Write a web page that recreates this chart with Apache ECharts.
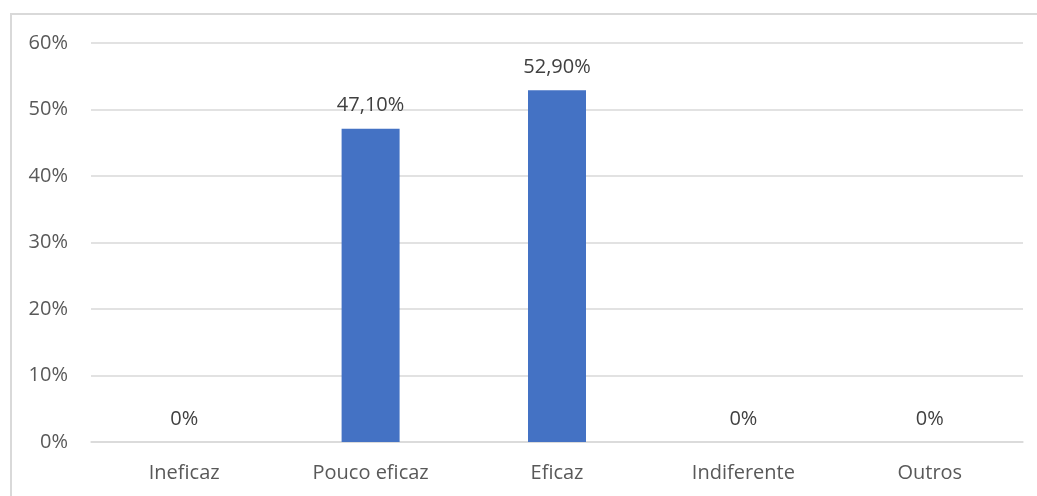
<!DOCTYPE html>
<html>
<head>
<meta charset="utf-8">
<script src="https://cdn.jsdelivr.net/npm/echarts@6/dist/echarts.min.js"></script>
<style>
  html, body { margin: 0; padding: 0; background: #fff; }
  #frame { position: absolute; left: 10px; top: 13px; width: 1027px; height: 483px;
           border-left: 2px solid #d9d9d9; border-top: 2px solid #d9d9d9; box-sizing: border-box; }
  #main { position: absolute; left: 0; top: 0; width: 1037px; height: 496px; }
</style>
</head>
<body>
<div id="frame"></div>
<div id="main"></div>
<script>
  // categorias e valores (%)
  var categorias = ['Ineficaz', 'Pouco eficaz', 'Eficaz', 'Indiferente', 'Outros'];
  var valores = [0, 47.1, 52.9, 0, 0];
  var rotulos = ['0%', '47,10%', '52,90%', '0%', '0%'];
  var ticksY = [0, 10, 20, 30, 40, 50, 60];

  var chart = echarts.init(document.getElementById('main'));
  var fonte = 'Open Sans, Noto Sans, sans-serif';

  var option = {
    animation: false,
    grid: { left: 91, right: 14, top: 43, bottom: 54 },
    xAxis: {
      type: 'category',
      data: categorias,
      axisLine: { lineStyle: { color: '#d9d9d9', width: 1.5 } },
      axisTick: { show: false },
      axisLabel: { color: '#595959', fontSize: 20, fontFamily: fonte, margin: 21 }
    },
    yAxis: {
      type: 'value',
      min: ticksY[0],
      max: ticksY[ticksY.length - 1],
      interval: 10,
      axisLine: { show: false },
      axisTick: { show: false },
      splitLine: { lineStyle: { color: '#d9d9d9', width: 1.5 } },
      axisLabel: {
        color: '#595959', fontSize: 20, fontFamily: fonte, margin: 23,
        formatter: function (v) { return v + '%'; }
      }
    },
    series: [{
      type: 'bar',
      data: valores,
      barWidth: 58,
      itemStyle: { color: '#4472C4' },
      label: {
        show: true,
        position: 'top',
        distance: 13,
        color: '#404040',
        fontSize: 20,
        fontFamily: fonte,
        formatter: function (p) { return rotulos[p.dataIndex]; }
      }
    }]
  };

  chart.setOption(option);
</script>
</body>
</html>
